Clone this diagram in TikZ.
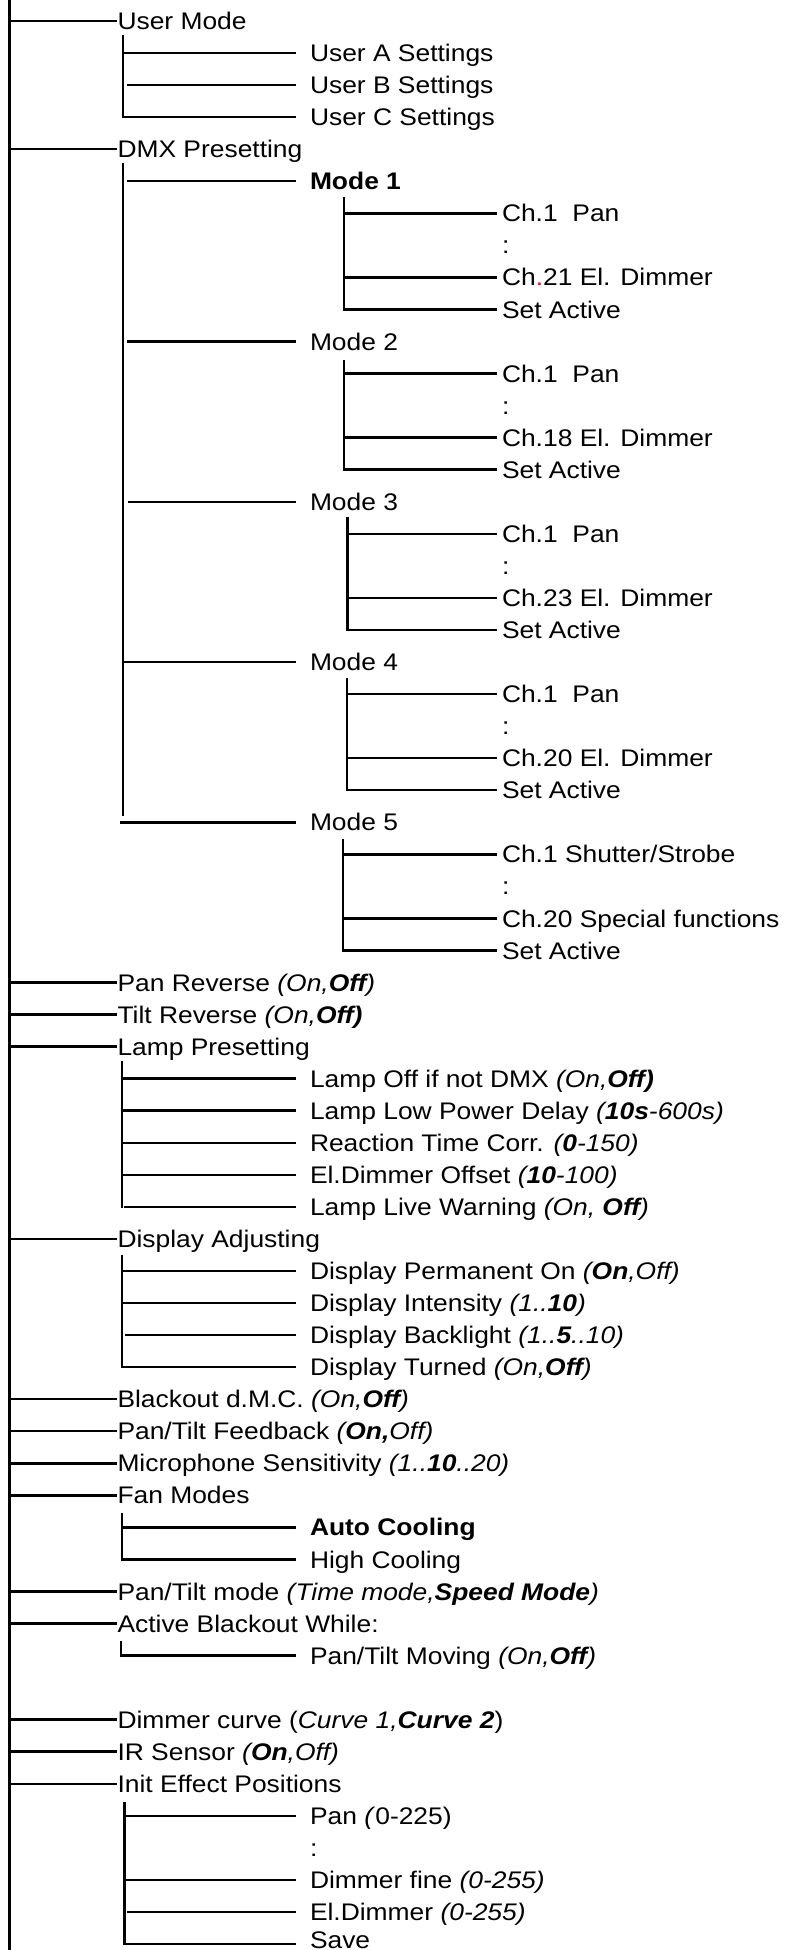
\documentclass[tikz,border=0pt]{standalone}
\usepackage{fontspec}
\setmainfont{Liberation Sans}[FakeStretch=1.1]
\usetikzlibrary{calc}
\tikzset{
  conn/.style={line width=2.5pt, line cap=butt},
  thinconn/.style={line width=1.6pt},
  lbl/.style={anchor=base west, inner sep=0pt, outer sep=0pt, font=\fontsize{24}{28}\selectfont},
}
\newcommand\RY[1]{21+32.05*(#1)}
% level 1 item: name,row,text
\newcommand\lone[3]{%
  \node[lbl] (#1) at (117.5,{\RY{#2}+8.6}) {#3};
  \coordinate (#1-a) at (9.5,{\RY{#2}});
  \draw[conn] (#1-a) -- ($(#1-a -| #1.west)+(-1,0)$);
}
% level 2 item: name,row,xstart,text
\newcommand\ltwo[4]{%
  \node[lbl] (#1) at (310,{\RY{#2}+8.6}) {#4};
  \coordinate (#1-a) at (#3,{\RY{#2}});
  \draw[conn] (#1-a) -- ($(#1-a -| #1.west)+(-14,0)$);
}
% level 3 item: name,row,xstart,text
\newcommand\lthree[4]{%
  \node[lbl] (#1) at (502,{\RY{#2}+8.6}) {#4};
  \coordinate (#1-a) at (#3,{\RY{#2}});
  \draw[conn] (#1-a) -- ($(#1-a -| #1.west)+(-5,0)$);
}
% colon: name,row,x
\newcommand\colonnode[3]{%
  \node[lbl] (#1) at (#3,{\RY{#2}+8.6}) {:};
}
% vertical trunk: name,x,ytop,row of last child
\newcommand\trunk[4]{%
  \coordinate (#1-top) at (#2,#3);
  \coordinate (#1-bot) at (#2,{\RY{#4}+1.2});
  \draw[conn] (#1-top) -- (#1-bot);
}
\begin{document}
\begin{tikzpicture}[x=1pt,y=-1pt]
\useasboundingbox (0,0) rectangle (784,1950);
\coordinate (root-top) at (9.5,0);
\coordinate (root-bot) at (9.5,1950);
\draw[conn] (root-top) -- (root-bot);

% User Mode
\lone{um}{0}{User Mode}
\trunk{umv}{123}{35}{3}
\ltwo{ua}{1}{123}{User A Settings}
\ltwo{ub}{2}{127}{User B Settings}
\ltwo{uc}{3}{123}{User C Settings}

% DMX Presetting
\lone{dmx}{4}{DMX Presetting}
\coordinate (dmxv-top) at (123,163);
\coordinate (dmxv-bot) at (123,816);
\draw[conn] (dmxv-top) -- (dmxv-bot);

\ltwo{m1}{5}{127}{\textbf{Mode 1}}
\trunk{m1v}{344}{{\RY{5}+16}}{9}
\lthree{m1a}{6}{344}{Ch.1\ \ Pan}
\colonnode{m1b}{7}{502}
\lthree{m1c}{8}{344}{Ch{\color{red}.}21 El. Dimmer}
\lthree{m1d}{9}{344}{Set Active}

\ltwo{m2}{10}{127}{Mode 2}
\trunk{m2v}{344}{{\RY{10}+18}}{14}
\lthree{m2a}{11}{344}{Ch.1\ \ Pan}
\colonnode{m2b}{12}{502}
\lthree{m2c}{13}{344}{Ch.18 El. Dimmer}
\lthree{m2d}{14}{344}{Set Active}

\ltwo{m3}{15}{128}{Mode 3}
\trunk{m3v}{347.5}{{\RY{15}+15}}{19}
\lthree{m3a}{16}{347.5}{Ch.1\ \ Pan}
\colonnode{m3b}{17}{502}
\lthree{m3c}{18}{347.5}{Ch.23 El. Dimmer}
\lthree{m3d}{19}{347.5}{Set Active}

\ltwo{m4}{20}{123}{Mode 4}
\trunk{m4v}{347}{{\RY{20}+16}}{24}
\lthree{m4a}{21}{347}{Ch.1\ \ Pan}
\colonnode{m4b}{22}{502}
\lthree{m4c}{23}{347}{Ch.20 El. Dimmer}
\lthree{m4d}{24}{347}{Set Active}

\ltwo{m5}{25}{119.5}{Mode 5}
\trunk{m5v}{343}{{\RY{25}+17}}{29}
\lthree{m5a}{26}{343}{Ch.1 Shutter/Strobe}
\colonnode{m5b}{27}{502}
\lthree{m5c}{28}{343}{Ch.20 Special functions}
\lthree{m5d}{29}{343}{Set Active}

% simple items
\lone{pr}{30}{Pan Reverse \textit{(On,\textbf{Off})}}
\lone{tr}{31}{Tilt Reverse \textit{(On,\textbf{Off)}}}

% Lamp Presetting
\lone{lp}{32}{Lamp Presetting}
\trunk{lpv}{122}{{\RY{32}+14}}{37}
\ltwo{lpa}{33}{122}{Lamp Off if not DMX \textit{(On,\textbf{Off)}}}
\ltwo{lpb}{34}{122}{Lamp Low Power Delay \textit{(\textbf{10s}-600s)}}
\ltwo{lpc}{35}{122}{Reaction Time Corr. \textit{(\textbf{0}-150)}}
\ltwo{lpd}{36}{122}{El.Dimmer Offset \textit{(\textbf{10}-100)}}
\ltwo{lpe}{37}{124}{Lamp Live Warning \textit{(On, \textbf{Off})}}

% Display Adjusting
\lone{da}{38}{Display Adjusting}
\trunk{dav}{122}{{\RY{38}+16}}{42}
\ltwo{daa}{39}{122}{Display Permanent On \textit{(\textbf{On},Off)}}
\ltwo{dab}{40}{122}{Display Intensity \textit{(1..\textbf{10})}}
\ltwo{dac}{41}{125}{Display Backlight \textit{(1..\textbf{5}..10)}}
\ltwo{dad}{42}{122}{Display Turned \textit{(On,\textbf{Off})}}

\lone{bo}{43}{Blackout d.M.C. \textit{(On,\textbf{Off})}}
\lone{ptf}{44}{Pan/Tilt Feedback \textit{(\textbf{On,}Off)}}
\lone{mic}{45}{Microphone Sensitivity \textit{(1..\textbf{10}..20)}}

% Fan Modes
\lone{fan}{46}{Fan Modes}
\trunk{fanv}{122}{{\RY{46}+18}}{48}
\ltwo{fana}{47}{122}{\textbf{Auto Cooling}}
\ltwo{fanb}{48}{122}{High Cooling}

\lone{ptm}{49}{Pan/Tilt mode \textit{(Time mode,\textbf{Speed Mode})}}

% Active Blackout While
\lone{ab}{50}{Active Blackout While:}
\coordinate (abv-top) at (121,{\RY{50}+17});
\coordinate (abv-bot) at (121,{\RY{51}+1});
\draw[thinconn] (abv-top) -- (abv-bot);
\ltwo{aba}{51}{120.5}{Pan/Tilt Moving \textit{(On,\textbf{Off})}}

\lone{dc}{53}{Dimmer curve (\textit{Curve 1,\textbf{Curve 2}})}
\lone{ir}{54}{IR Sensor \textit{(\textbf{On},Off)}}

% Init Effect Positions
\lone{ie}{55}{Init Effect Positions}
\trunk{iev}{124.5}{{\RY{55}+18}}{60}
\ltwo{iea}{56}{124.5}{Pan \textit{(}0-225)}
\colonnode{ieb}{57}{310}
\ltwo{iec}{58}{124.5}{Dimmer fine \textit{(0-255)}}
\ltwo{ied}{59}{127}{El.Dimmer \textit{(0-255)}}
\node[lbl] (iee) at (310,1948) {Save};
\coordinate (iee-a) at (124.5,{\RY{60}});
\draw[conn] (iee-a) -- ($(iee-a -| iee.west)+(-14,0)$);
\end{tikzpicture}
\end{document}
